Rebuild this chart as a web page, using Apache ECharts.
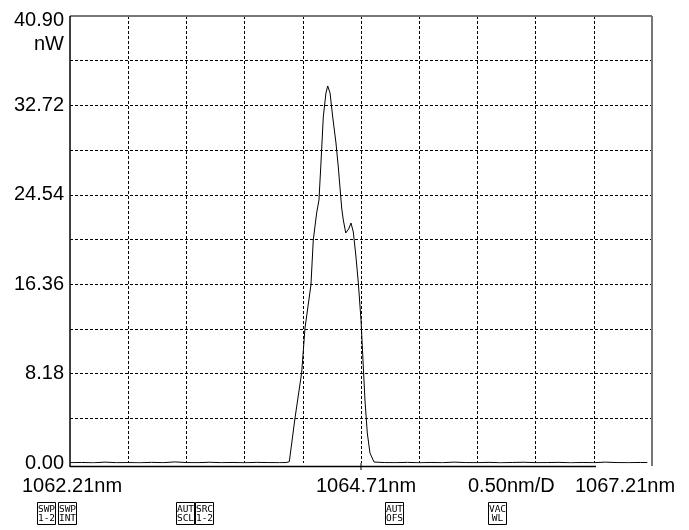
<!DOCTYPE html>
<html>
<head>
<meta charset="utf-8">
<script src="https://cdn.jsdelivr.net/npm/echarts@6/dist/echarts.min.js"></script>
<style>html,body{margin:0;padding:0;background:#fff;}#c{width:689px;height:530px;}</style>
</head>
<body>
<div id="c"></div>
<script>
// Wavelength (nm) and optical power (nW)
const wavelength = [
  1062.21,1062.31,1062.41,1062.51,1062.61,1062.71,1062.81,1062.91,1063.01,1063.11,
  1063.21,1063.31,1063.41,1063.51,1063.61,1063.71,1063.81,1063.91,1064.01,
  1064.066,1064.094,1064.143,1064.200,1064.229,1064.280,1064.300,1064.329,1064.349,1064.366,
  1064.386,1064.409,1064.424,1064.444,1064.467,1064.495,1064.515,1064.544,1064.558,1064.579,
  1064.604,1064.624,1064.644,1064.667,1064.687,1064.710,1064.730,1064.744,1064.764,1064.787,1064.822,
  1064.91,1065.01,1065.11,1065.21,1065.31,1065.41,1065.51,1065.61,1065.71,1065.81,
  1065.91,1066.01,1066.11,1066.21,1066.31,1066.41,1066.51,1066.61,1066.71,1066.81,
  1066.91,1067.01,1067.11,1067.17
];
const power = [
  0.03,0.05,0.02,0.08,0.03,0.04,0.02,0.06,0.03,0.10,
  0.04,0.03,0.07,0.03,0.05,0.02,0.06,0.04,0.03,
  0.04,0.12,4.12,8.24,12.35,16.29,20.40,22.88,24.06,27.45,
  31.66,33.86,34.50,33.86,31.66,29.28,27.08,23.33,22.23,21.05,
  21.41,21.96,21.14,18.85,16.47,13.08,8.78,5.76,2.75,0.92,0.09,
  0.04,0.03,0.06,0.02,0.05,0.03,0.08,0.04,0.03,0.06,
  0.02,0.05,0.07,0.03,0.04,0.06,0.02,0.05,0.03,0.08,
  0.04,0.03,0.05,0.04
];
const xRange = [1062.21, 1067.21];
const yMax = 40.90;
const yStep = 4.09;
const yUnit = 'nW';
const xLabels = ['1062.21nm', '1064.71nm', '0.50nm/D', '1067.21nm'];
const xLabelLeft = [22, 316, 468, 575];
const buttons = ['SWP\n1-2', 'SWP\nINT', 'AUT\nSCL', 'SRC\n1-2', 'AUT\nOFS', 'VAC\nWL'];
const buttonLeft = [37, 58, 176, 195, 385, 488];

const FONT = '"Liberation Sans", Arial, Helvetica, sans-serif';
const GL = 70, GT = 16, GW = 582, GH = 447;

const chart = echarts.init(document.getElementById('c'), null, {renderer: 'canvas'});
const dashColors = (n) => { const a = []; for (let i = 0; i <= n; i++) a.push(i === 0 || i === n ? 'rgba(0,0,0,0)' : '#000'); return a; };

const graphics = [];
// frame
graphics.push({type:'line', shape:{x1:GL, y1:GT, x2:GL+GW, y2:GT}, style:{stroke:'#777', lineWidth:2}, z:10});
graphics.push({type:'line', shape:{x1:GL+GW, y1:GT, x2:GL+GW, y2:GT+GH+3}, style:{stroke:'#777', lineWidth:2}, z:10});
graphics.push({type:'line', shape:{x1:GL, y1:GT, x2:GL, y2:GT+GH+4}, style:{stroke:'#000', lineWidth:1.5}, z:10});
graphics.push({type:'line', shape:{x1:GL, y1:GT+GH+3.5, x2:596, y2:GT+GH+3.5}, style:{stroke:'#000', lineWidth:1.5}, z:10});
graphics.push({type:'line', shape:{x1:GL+GW/2, y1:GT+GH, x2:GL+GW/2, y2:GT+GH+7}, style:{stroke:'#000', lineWidth:1}, z:10});
graphics.push({type:'text', style:{text:yUnit, x:64, y:44, textAlign:'right', textVerticalAlign:'middle', font:'20px ' + FONT, fill:'#000'}});
xLabels.forEach((t, i) => {
  graphics.push({type:'text', style:{text:t, x:xLabelLeft[i], y:486, textAlign:'left', textVerticalAlign:'middle', font:'20px ' + FONT, fill:'#000'}});
});
buttons.forEach((t, i) => {
  graphics.push({type:'rect', shape:{x:buttonLeft[i]+0.5, y:502.5, width:18, height:22}, style:{fill:'#fff', stroke:'#000', lineWidth:1}});
  graphics.push({type:'text', style:{text:t, x:buttonLeft[i]+9.5, y:514, textAlign:'center', textVerticalAlign:'middle', font:'9.5px "DejaVu Sans Mono", monospace', lineHeight:9.5, fill:'#000'}});
});

chart.setOption({
  animation: false,
  backgroundColor: '#fff',
  grid: {left: GL, top: GT, width: GW, height: GH, containLabel: false},
  xAxis: [
    {type:'value', min:xRange[0], max:xRange[1], show:true,
     axisLine:{show:false}, axisTick:{show:false}, axisLabel:{show:false}, splitLine:{show:false}},
    {type:'value', min:0, max:10, interval:1, position:'bottom',
     axisLine:{show:false}, axisTick:{show:false}, axisLabel:{show:false},
     splitLine:{show:true, lineStyle:{color:dashColors(10), width:1, type:[3,2]}}}
  ],
  yAxis: {
    type:'value', min:0, max:yMax, interval:yStep,
    axisLine:{show:false}, axisTick:{show:false},
    axisLabel:{
      margin:6, fontFamily:FONT, fontSize:20, color:'#000',
      formatter:(v) => {
        const k = Math.round(v / yStep);
        if (k % 2 !== 0) return '';
        return k === 10 ? '{top|' + v.toFixed(2) + '}' : v.toFixed(2);
      },
      rich:{top:{fontFamily:FONT, fontSize:20, color:'#000', padding:[9,0,0,0]}}
    },
    splitLine:{show:true, lineStyle:{color:dashColors(10), width:1, type:[3,2]}}
  },
  series: [{
    type:'line', xAxisIndex:0, yAxisIndex:0,
    data: wavelength.map((w, i) => [w, power[i]]),
    showSymbol:false, symbol:'none',
    lineStyle:{color:'#000', width:1},
    z:5
  }],
  graphic: graphics
});
</script>
</body>
</html>
